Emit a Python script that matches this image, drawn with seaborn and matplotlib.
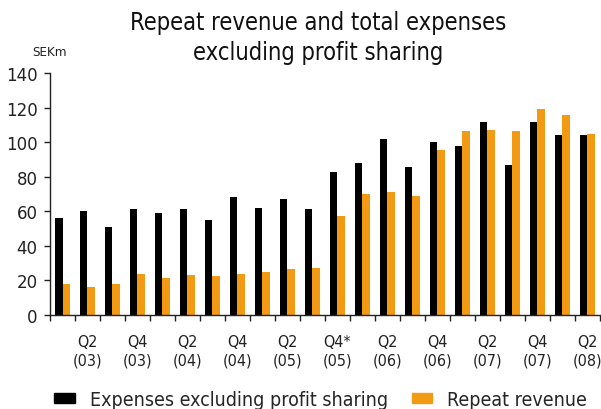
import matplotlib
matplotlib.use("Agg")
import matplotlib.pyplot as plt
import seaborn as sns
import pandas as pd
import numpy as np

quarters = [f"Q{q} {y}" for y in range(2003, 2009) for q in range(1, 5)][:22]
expenses = [56, 60, 51, 61, 59, 61, 55, 68, 62, 67, 61, 82.5, 88, 102, 85.5, 100, 98, 112, 87, 112, 104, 104]
repeat = [18, 16, 18, 23.5, 21, 23, 22.5, 23.5, 25, 26.5, 27, 57, 70, 71, 69, 95.5, 106.5, 107, 106.5, 119.5, 116, 105]
series_names = ["Expenses excluding profit sharing", "Repeat revenue"]
tick_labels = ["", "Q2\n(03)", "", "Q4\n(03)", "", "Q2\n(04)", "", "Q4\n(04)", "", "Q2\n(05)", "", "Q4*\n(05)",
               "", "Q2\n(06)", "", "Q4\n(06)", "", "Q2\n(07)", "", "Q4\n(07)", "", "Q2\n(08)"]
colors = ["#000000", "#F39A14"]

df = pd.DataFrame({
    "quarter": quarters * 2,
    "value": expenses + repeat,
    "series": [series_names[0]] * len(quarters) + [series_names[1]] * len(quarters),
})

sns.set_style("white")
plt.rcParams["font.family"] = ["DejaVu Sans"]

fig = plt.figure(figsize=(6.01, 4.10), dpi=100)
ax = fig.add_axes([0.0832, 0.230, 0.915, 0.589])
sns.barplot(data=df, x="quarter", y="value", hue="series", palette=colors,
            width=0.62, saturation=1, ax=ax, legend=True, edgecolor="none")

ax.set_ylim(0, 140)
ax.set_xlim(-0.5, len(quarters) - 0.5)
ax.set_yticks(range(0, 141, 20))
ax.tick_params(axis="y", labelsize=12, length=4, width=1, direction="out", left=True, pad=5, color="#222222")
for lab in ax.get_yticklabels():
    lab.set_color("#222222")

# major ticks at group boundaries (no labels)
ax.set_xticks(np.arange(-0.5, len(quarters) + 0.5, 1))
ax.set_xticklabels([])
ax.tick_params(axis="x", which="major", length=4, width=1, direction="out", bottom=True, color="#222222")
# category labels on minor ticks at group centres
ax.set_xticks(np.arange(len(quarters)), minor=True)
ax.set_xticklabels(tick_labels, minor=True, fontsize=11.5, color="#222222", linespacing=1.3, fontstretch="condensed")
ax.tick_params(axis="x", which="minor", length=0, pad=14)

ax.set_xlabel("")
ax.set_ylabel("")
sns.despine(ax=ax)
for s in ["left", "bottom"]:
    ax.spines[s].set_color("#222222")
    ax.spines[s].set_linewidth(1)

fig.text(0.53, 0.972, "Repeat revenue and total expenses\nexcluding profit sharing",
         ha="center", va="top", fontsize=17, color="#111111", linespacing=1.3,
         family="DejaVu Sans", fontstretch="condensed")
fig.text(0.054, 0.872, "SEKm", ha="left", va="center", fontsize=9.5, color="#222222",
         family="DejaVu Sans", fontstretch="condensed")

ax.legend_.remove()
handles = [plt.Rectangle((0, 0), 1, 1, color=c) for c in colors]
fig.legend(handles, series_names, loc="center left", bbox_to_anchor=(0.09, 0.024),
           ncol=2, frameon=False, handlelength=1.05, handleheight=0.45,
           columnspacing=1.2, handletextpad=0.8, borderaxespad=0, borderpad=0,
           prop={"family": "DejaVu Sans", "stretch": "condensed", "size": 14})

fig.savefig("out.png", dpi=100)
